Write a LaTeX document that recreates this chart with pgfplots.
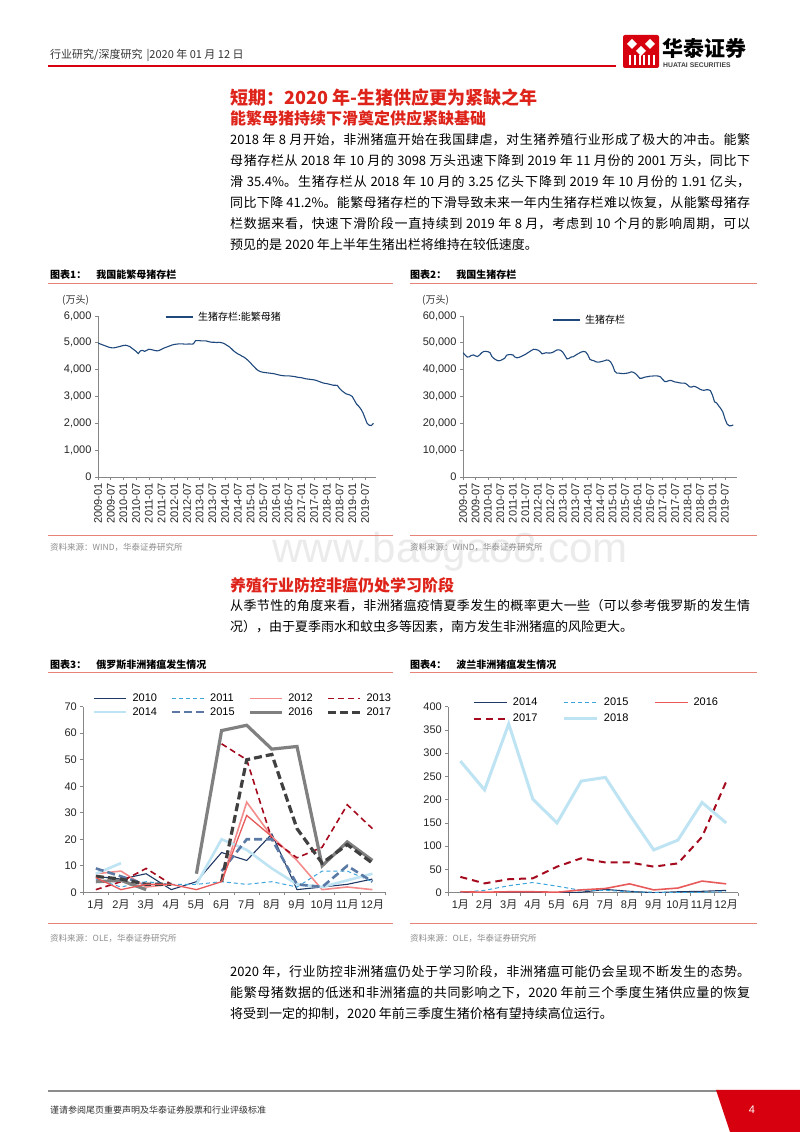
\documentclass[border=0pt]{standalone}
\usepackage{fontspec}
\setmainfont{Liberation Sans}
\newfontfamily\cjk{Noto Sans CJK SC}
\usepackage{pgfplots}
\pgfplotsset{compat=1.18}
\XeTeXlinebreaklocale "zh"
\XeTeXlinebreakskip=0pt plus 2pt minus 0.5pt

\definecolor{htred}{RGB}{214,0,15}
\definecolor{titred}{RGB}{222,35,26}
\definecolor{capline}{RGB}{231,130,120}
\definecolor{sowblue}{RGB}{31,73,125}
\definecolor{axgray}{RGB}{135,135,135}
\definecolor{c2010}{RGB}{31,56,100}
\definecolor{c2011}{RGB}{60,165,220}
\definecolor{c2012}{RGB}{244,140,140}
\definecolor{c2012b}{RGB}{232,90,90}
\definecolor{c2013}{RGB}{165,10,30}
\definecolor{c2014}{RGB}{190,228,244}
\definecolor{c2015}{RGB}{90,122,165}
\definecolor{c2016}{RGB}{128,128,128}
\definecolor{c2017}{RGB}{64,64,64}

\newcommand\jline[2]{\node[anchor=west,inner sep=0pt] at (230,#1) {\parbox{520pt}{\cjk\fontsize{13}{13}\selectfont\parindent=0pt\parfillskip=0pt\relax #2}};}
\newcommand\nline[2]{\node[anchor=west,inner sep=0pt] at (230,#1) {\cjk\fontsize{13}{13}\selectfont #2};}

\pgfplotsset{
  rptaxis/.style={scale only axis, anchor=south west,
    axis x line*=bottom, axis y line*=left,
    axis line style={draw=axgray, line width=0.9pt},
    tick style={draw=axgray, line width=0.7pt},
    tick align=outside, major tick length=3pt,
    tick label style={font=\fontsize{11}{11}\selectfont, text=black!85},
    /pgf/number format/assume math mode=true,
    /pgf/number format/1000 sep={,},
  },
  rptleg/.style={legend style={draw=none, fill=none, inner sep=0pt, outer sep=0pt,
      font=\fontsize{11}{11}\selectfont, column sep=0pt, row sep=3pt,
      nodes={inner sep=0pt, outer sep=0pt},
      /tikz/every odd column/.append style={column sep=5pt}},
    legend cell align=left},
}

\begin{document}
\begin{tikzpicture}[x=1pt,y=1pt]
\path[fill=white] (0,0) rectangle (800,1132);

% watermark
\node[text=black!8, font=\fontsize{42}{42}\selectfont] at (450,580) {www.baogao8.com};

% ---------- header ----------
\node[anchor=west,inner sep=0pt,text=black!80] at (50,1077) {\cjk\fontsize{11}{11}\selectfont 行业研究/深度研究\hspace{4pt}|2020 年 01 月 12 日};
\draw[htred, line width=1.3pt] (48,1066) -- (616,1066);
% logo
\fill[htred, rounded corners=2pt] (623,1064) rectangle (659,1097);
\fill[white] (632,1093) -- (637,1088) -- (632,1083) -- (627,1088) -- cycle;
\fill[white] (650,1093) -- (655,1088) -- (650,1083) -- (645,1088) -- cycle;
\fill[white] (641,1086) -- (646,1081) -- (641,1076) -- (636,1081) -- cycle;
\foreach \xx in {629,634,639,643,648,653} {\fill[white] (\xx,1067) rectangle (\xx+1.6,1077);}
\node[anchor=west,inner sep=0pt] at (662,1084) {\cjk\bfseries\fontsize{21}{21}\selectfont 华泰证券};
\node[anchor=west,inner sep=0pt,text=black!75] at (663,1067) {\bfseries\fontsize{6.8}{6.8}\selectfont HUATAI SECURITIES};

% ---------- section 1 text ----------
\node[anchor=west,inner sep=0pt,text=titred] at (230,1034) {\cjk\bfseries\fontsize{18}{18}\selectfont 短期：2020 年-生猪供应更为紧缺之年};
\node[anchor=west,inner sep=0pt,text=titred] at (230,1014) {\cjk\bfseries\fontsize{16}{16}\selectfont 能繁母猪持续下滑奠定供应紧缺基础};
\jline{992}{2018 年 8 月开始，非洲猪瘟开始在我国肆虐，对生猪养殖行业形成了极大的冲击。能繁}
\jline{971}{母猪存栏从 2018 年 10 月的 3098 万头迅速下降到 2019 年 11 月份的 2001 万头，同比下}
\jline{950}{滑 35.4\%。生猪存栏从 2018 年 10 月的 3.25 亿头下降到 2019 年 10 月份的 1.91 亿头，}
\jline{929}{同比下降 41.2\%。能繁母猪存栏的下滑导致未来一年内生猪存栏难以恢复，从能繁母猪存}
\jline{908}{栏数据来看，快速下滑阶段一直持续到 2019 年 8 月，考虑到 10 个月的影响周期，可以}
\nline{887}{预见的是 2020 年上半年生猪出栏将维持在较低速度。}

% ---------- chart captions 1,2 ----------
\node[anchor=west,inner sep=0pt] at (50,857) {\cjk\bfseries\fontsize{10}{10}\selectfont 图表1：\hspace{10pt}我国能繁母猪存栏};
\node[anchor=west,inner sep=0pt] at (410,857) {\cjk\bfseries\fontsize{10}{10}\selectfont 图表2：\hspace{10pt}我国生猪存栏};
\draw[capline, line width=1.2pt] (48,848.5) -- (393,848.5);
\draw[capline, line width=1.2pt] (410,848.5) -- (757,848.5);
\draw[capline, line width=1pt] (48,596) -- (393,596);
\draw[capline, line width=1pt] (410,596) -- (757,596);
\node[anchor=west,inner sep=0pt,text=black!45] at (50,585) {\cjk\fontsize{8.5}{8.5}\selectfont 资料来源：WIND，华泰证券研究所};
\node[anchor=west,inner sep=0pt,text=black!45] at (410,585) {\cjk\fontsize{8.5}{8.5}\selectfont 资料来源：WIND，华泰证券研究所};
\node[anchor=west,inner sep=0pt,text=black!80] at (62,832) {\cjk\fontsize{10}{10}\selectfont (万头)};
\node[anchor=west,inner sep=0pt,text=black!80] at (422,832) {\cjk\fontsize{10}{10}\selectfont (万头)};

% ---------- chart 1 ----------
\begin{axis}[rptaxis, rptleg, at={(98pt,655pt)}, width=278pt, height=161pt,
  xmin=0, xmax=131.2, ymin=0, ymax=6000, ytick={0,1000,...,6000},
  xtick={0,6,...,126},
  xticklabels={2009-01,2009-07,2010-01,2010-07,2011-01,2011-07,2012-01,2012-07,2013-01,2013-07,2014-01,2014-07,2015-01,2015-07,2016-01,2016-07,2017-01,2017-07,2018-01,2018-07,2019-01,2019-07},
  x tick label style={rotate=90, anchor=east},
  legend style={at={(0.241,0.994)}, anchor=west, font=\cjk\fontsize{10}{10}\selectfont},
  legend image code/.code={\draw[#1] (0pt,0pt) -- (27pt,0pt);},
]
\addplot[sowblue, line width=1.1pt] table[x expr=\coordindex, y=v, row sep=\\] {v\\
4990\\4960\\4930\\4900\\4870\\4840\\4820\\4810\\4820\\4840\\4860\\4880\\
4900\\4910\\4890\\4860\\4800\\4740\\4680\\4600\\4700\\4720\\4680\\4720\\
4760\\4750\\4730\\4710\\4700\\4720\\4760\\4800\\4830\\4860\\4890\\4920\\
4940\\4950\\4960\\4960\\4960\\4950\\4950\\4960\\4950\\4960\\5080\\5080\\
5080\\5070\\5070\\5070\\5050\\5030\\5020\\5020\\5010\\5020\\5010\\4990\\
4950\\4900\\4850\\4780\\4700\\4640\\4590\\4550\\4500\\4460\\4400\\4330\\
4250\\4160\\4080\\4000\\3950\\3920\\3900\\3890\\3880\\3870\\3860\\3850\\
3830\\3810\\3790\\3780\\3770\\3770\\3770\\3760\\3750\\3740\\3720\\3710\\
3700\\3680\\3660\\3650\\3640\\3630\\3620\\3600\\3570\\3540\\3510\\3490\\
3480\\3460\\3440\\3420\\3420\\3410\\3300\\3220\\3160\\3100\\3080\\3050\\
3000\\2860\\2720\\2640\\2540\\2400\\2200\\2000\\1930\\1920\\2001\\
};
\addlegendentry{生猪存栏:能繁母猪}
\end{axis}

% ---------- chart 2 ----------
\begin{axis}[rptaxis, rptleg, at={(463pt,655pt)}, width=274pt, height=161pt,
  xmin=0, xmax=131.8, ymin=0, ymax=60000, ytick={0,10000,...,60000},
  scaled y ticks=false,
  xtick={0,6,...,126},
  xticklabels={2009-01,2009-07,2010-01,2010-07,2011-01,2011-07,2012-01,2012-07,2013-01,2013-07,2014-01,2014-07,2015-01,2015-07,2016-01,2016-07,2017-01,2017-07,2018-01,2018-07,2019-01,2019-07},
  x tick label style={rotate=90, anchor=east},
  legend style={at={(0.325,0.975)}, anchor=west, font=\cjk\fontsize{10}{10}\selectfont},
  legend image code/.code={\draw[#1] (0pt,0pt) -- (27pt,0pt);},
]
\addplot[sowblue, line width=1.1pt] table[x expr=\coordindex, y=v, row sep=\\] {v\\
46300\\45500\\44700\\44800\\45300\\45500\\45100\\44900\\45500\\46300\\46800\\46800\\
46700\\46300\\44800\\44100\\43600\\43300\\43400\\43800\\44200\\45400\\45600\\45600\\
45500\\44700\\44400\\44600\\44900\\45300\\45700\\46200\\46700\\47200\\47600\\47500\\
47300\\46800\\45900\\46100\\46300\\46200\\46200\\46400\\46800\\47300\\47400\\47200\\
46500\\45300\\44000\\44200\\44700\\44800\\45300\\45800\\46200\\46600\\46800\\46600\\
45600\\43900\\43500\\43300\\42900\\42800\\42900\\43100\\43300\\43600\\43500\\42900\\
41500\\39400\\38700\\38700\\38600\\38500\\38600\\38700\\38900\\39200\\39000\\38500\\
37700\\36800\\36800\\37100\\37300\\37400\\37600\\37600\\37700\\37700\\37600\\37300\\
36400\\35600\\35600\\35900\\36000\\35700\\35400\\35300\\35100\\35000\\35000\\34900\\
34300\\33600\\33500\\33800\\33600\\33200\\32700\\32400\\32300\\32500\\32500\\32200\\
30500\\28000\\27600\\26500\\25500\\24200\\21700\\19800\\19100\\19100\\19400\\
};
\addlegendentry{生猪存栏}
\end{axis}

% ---------- section 2 text ----------
\node[anchor=west,inner sep=0pt,text=titred] at (230,547) {\cjk\bfseries\fontsize{16}{16}\selectfont 养殖行业防控非瘟仍处学习阶段};
\jline{526}{从季节性的角度来看，非洲猪瘟疫情夏季发生的概率更大一些（可以参考俄罗斯的发生情}
\nline{505}{况），由于夏季雨水和蚊虫多等因素，南方发生非洲猪瘟的风险更大。}

% ---------- chart captions 3,4 ----------
\node[anchor=west,inner sep=0pt] at (50,467) {\cjk\bfseries\fontsize{10}{10}\selectfont 图表3：\hspace{10pt}俄罗斯非洲猪瘟发生情况};
\node[anchor=west,inner sep=0pt] at (410,467) {\cjk\bfseries\fontsize{10}{10}\selectfont 图表4：\hspace{10pt}波兰非洲猪瘟发生情况};
\draw[capline, line width=1.2pt] (48,459.5) -- (393,459.5);
\draw[capline, line width=1.2pt] (410,459.5) -- (757,459.5);
\draw[capline, line width=1pt] (48,208) -- (393,208);
\draw[capline, line width=1pt] (410,208) -- (757,208);
\node[anchor=west,inner sep=0pt,text=black!45] at (50,194) {\cjk\fontsize{8.5}{8.5}\selectfont 资料来源：OLE，华泰证券研究所};
\node[anchor=west,inner sep=0pt,text=black!45] at (410,194) {\cjk\fontsize{8.5}{8.5}\selectfont 资料来源：OLE，华泰证券研究所};

% ---------- chart 3 ----------
\begin{axis}[rptaxis, rptleg, at={(83.3pt,239.7pt)}, width=301.7pt, height=185.6pt,
  xmin=0.5, xmax=12.5, ymin=0, ymax=70, ytick={0,10,...,70},
  xtick={0.5,1.5,...,12.5}, xticklabels={},
  extra x ticks={1,2,...,12},
  extra x tick labels={1{\cjk 月},2{\cjk 月},3{\cjk 月},4{\cjk 月},5{\cjk 月},6{\cjk 月},7{\cjk 月},8{\cjk 月},9{\cjk 月},10{\cjk 月},11{\cjk 月},12{\cjk 月}},
  extra x tick style={major tick length=0pt, xticklabel style={yshift=-4pt}},
  unbounded coords=jump,
  legend columns=4,
  legend style={at={(0.032,1.069)}, anchor=north west, row sep=4.5pt},
  legend image code/.code={\draw[#1] (0pt,0pt) -- (32pt,0pt);},
]
\addplot[c2010, line width=1.1pt] coordinates {(1,6)(2,5)(3,7)(4,1)(5,4)(6,15)(7,12)(8,22)(9,1)(10,2)(11,3)(12,5)};
\addlegendentry{\makebox[38pt][l]{2010}}
\addplot[c2011, line width=1pt, dash pattern=on 4pt off 3pt] coordinates {(1,5)(2,2)(3,4)(4,3)(5,3)(6,4)(7,3)(8,4)(9,2)(10,8)(11,8)(12,4)};
\addlegendentry{\makebox[38pt][l]{2011}}
\addplot[c2012, line width=1.6pt] coordinates {(1,7)(2,8)(3,2)(4,3)(5,nan)(6,4)(7,34)(8,21)(9,12)(10,1)(11,2)(12,1)};
\addlegendentry{\makebox[38pt][l]{2012}}
\addplot[c2013, line width=1.6pt, dash pattern=on 6pt off 4pt] coordinates {(1,1)(2,4)(3,9)(4,3)(5,nan)(6,56)(7,50)(8,20)(9,13)(10,17)(11,33)(12,24)};
\addlegendentry{\makebox[38pt][l]{2013}}
\addplot[c2014, line width=2.6pt] coordinates {(1,7)(2,11)(3,nan)(4,nan)(5,3)(6,20)(7,16)(8,9)(9,3)(10,2)(11,4.5)(12,7)};
\addlegendentry{\makebox[38pt][l]{2014}}
\addplot[c2015, line width=2.6pt, dash pattern=on 8pt off 4pt] coordinates {(1,9)(2,6)(3,3)(4,nan)(5,nan)(6,8)(7,20)(8,20)(9,3)(10,2)(11,10)(12,4)};
\addlegendentry{\makebox[38pt][l]{2015}}
\addplot[c2016, line width=3.2pt] coordinates {(1,4)(2,4.5)(3,1)(4,nan)(5,7)(6,61)(7,63)(8,54)(9,55)(10,10)(11,19)(12,12)};
\addlegendentry{\makebox[38pt][l]{2016}}
\addplot[c2017, line width=3.2pt, dash pattern=on 8pt off 4pt] coordinates {(1,6)(2,5)(3,3)(4,3)(5,nan)(6,4)(7,50)(8,52)(9,24)(10,11)(11,18)(12,11)};
\addlegendentry{\makebox[38pt][l]{2017}}
\addplot[c2012b, line width=1.3pt, forget plot] coordinates {(1,5.5)(2,1)(3,3)(4,3)(5,1)(6,4)(7,29)(8,21)};
\end{axis}

% ---------- chart 4 ----------
\begin{axis}[rptaxis, rptleg, at={(448.3pt,239.3pt)}, width=290pt, height=186pt,
  xmin=0.5, xmax=12.5, ymin=0, ymax=400, ytick={0,50,...,400},
  xtick={0.5,1.5,...,12.5}, xticklabels={},
  extra x ticks={1,2,...,12},
  extra x tick labels={1{\cjk 月},2{\cjk 月},3{\cjk 月},4{\cjk 月},5{\cjk 月},6{\cjk 月},7{\cjk 月},8{\cjk 月},9{\cjk 月},10{\cjk 月},11{\cjk 月},12{\cjk 月}},
  extra x tick style={major tick length=0pt, xticklabel style={yshift=-4pt}},
  legend columns=3,
  legend style={at={(0.085,1.047)}, anchor=north west, row sep=7pt},
  legend image code/.code={\draw[#1] (0pt,0pt) -- (33pt,0pt);},
]
\addplot[c2010, line width=1.1pt] coordinates {(1,1)(2,0)(3,1)(4,1)(5,0)(6,1)(7,7)(8,3)(9,0)(10,2)(11,3)(12,5)};
\addlegendentry{\makebox[50pt][l]{2014}}
\addplot[c2011, line width=1pt, dash pattern=on 4pt off 3pt] coordinates {(1,1)(2,5)(3,15)(4,22)(5,14)(6,5)(7,5)(8,2)(9,1)(10,0)(11,1)(12,2)};
\addlegendentry{\makebox[50pt][l]{2015}}
\addplot[c2012b, line width=1.6pt] coordinates {(1,2)(2,1)(3,2)(4,2)(5,1)(6,6)(7,9)(8,19)(9,6)(10,10)(11,25)(12,19)};
\addlegendentry{\makebox[50pt][l]{2016}}
\addplot[c2013, line width=2pt, dash pattern=on 7pt off 5pt] coordinates {(1,34)(2,20)(3,29)(4,31)(5,56)(6,74)(7,65)(8,65)(9,56)(10,63)(11,120)(12,239)};
\addlegendentry{\makebox[50pt][l]{2017}}
\addplot[c2014, line width=3pt] coordinates {(1,283)(2,221)(3,363)(4,201)(5,150)(6,240)(7,248)(8,168)(9,92)(10,113)(11,194)(12,150)};
\addlegendentry{\makebox[50pt][l]{2018}}
\end{axis}

% ---------- section 3 text ----------
\jline{160}{2020 年，行业防控非洲猪瘟仍处于学习阶段，非洲猪瘟可能仍会呈现不断发生的态势。}
\jline{139}{能繁母猪数据的低迷和非洲猪瘟的共同影响之下，2020 年前三个季度生猪供应量的恢复}
\nline{118}{将受到一定的抑制，2020 年前三季度生猪价格有望持续高位运行。}

% ---------- footer ----------
\draw[black!45, line width=2pt] (48,41) -- (722,41);
\fill[htred] (716,42) -- (800,42) -- (800,0) -- (730,0) .. controls (724,18) .. (716,42) -- cycle;
\node[text=white] at (752,22) {\fontsize{11}{11}\selectfont 4};
\node[anchor=west,inner sep=0pt,text=black!80] at (50,22) {\cjk\fontsize{9}{9}\selectfont 谨请参阅尾页重要声明及华泰证券股票和行业评级标准};
\end{tikzpicture}
\end{document}
